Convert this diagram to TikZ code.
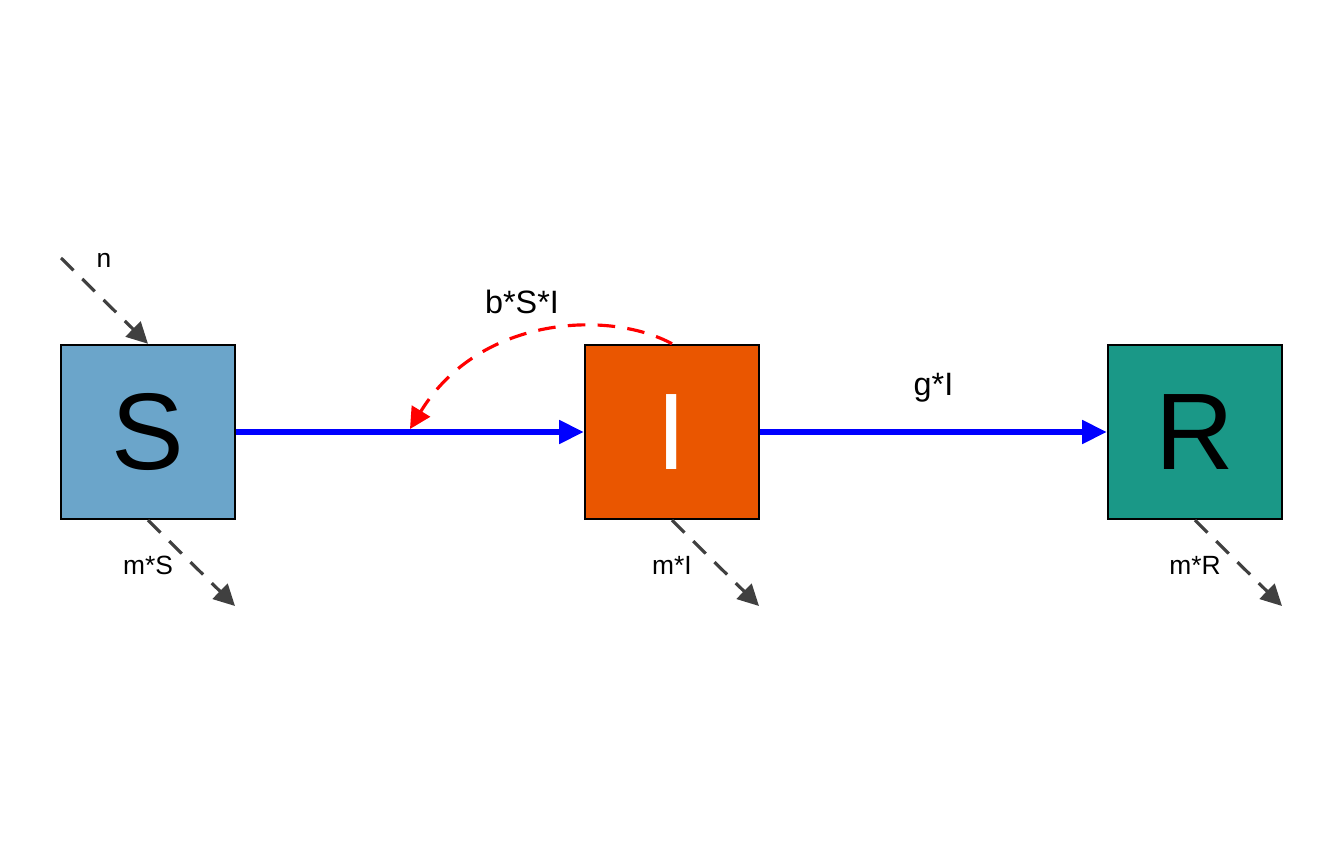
\documentclass[tikz,border=0pt]{standalone}
\usepackage{fontspec}
\setmainfont{Liberation Sans}
\usetikzlibrary{arrows.meta,positioning,calc}
\definecolor{CompS}{HTML}{6BA5CA}
\definecolor{CompI}{HTML}{EA5600}
\definecolor{CompR}{HTML}{1A9887}
\definecolor{FlowGray}{HTML}{404040}
\tikzset{
    % Compartment boxes
    compartment/.style={
        rectangle,
        draw=black,
        line width=0.7pt,
        minimum width=1.74cm,
        minimum height=1.74cm,
        inner sep=0pt,
        font=\fontsize{31}{31}\selectfont
    },
    flow/.style={
        -{Triangle[length=7pt,width=6.5pt]},
        line width=1.5pt,
        color=blue
    },
    interaction/.style={
        -{Triangle[length=6pt,width=6pt]},
        line width=0.9pt,
        dash pattern=on 5pt off 3.5pt,
        color=red
    },
    external/.style={
        -{Triangle[length=6pt,width=6pt]},
        line width=0.9pt,
        dash pattern=on 5pt off 3.5pt,
        color=FlowGray
    },
    flow label/.style={
        text=black,
        font=\fontsize{9.2}{10}\selectfont
    },
    small label/.style={
        text=black,
        font=\fontsize{7.5}{9}\selectfont
    }
}
\begin{document}
\begin{tikzpicture}
    \useasboundingbox (0,0) rectangle (13.44,8.65);

    % Compartments
    \node[compartment, fill=CompS] (S) at (1.48,4.33) {S};
    \node[compartment, fill=CompI, text=white] (I) at (6.72,4.33) {I};
    \node[compartment, fill=CompR] (R) at (11.95,4.33) {R};

    % Free ends of inflow and outflows
    \coordinate (nin) at (0.61,6.07);
    \coordinate (Sout) at (2.35,2.59);
    \coordinate (Iout) at (7.59,2.59);
    \coordinate (Rout) at (12.82,2.59);
    \coordinate (binf) at (4.10,4.36);

    % Main flows
    \draw[flow] (S.east) -- (I.west);
    \draw[flow] (I.east) -- node[flow label, above=0.15cm] (gI) {g*I} (R.west);

    % Infection interaction
    \draw[interaction] (I.north) .. controls (6.10,5.55) and (4.80,5.50) .. (binf);
    \node[flow label] (bSI) at (5.22,5.63) {b*S*I};

    % Birth and deaths
    \draw[external] (nin) -- (S.north);
    \node[small label] (n) at (1.04,6.05) {n};
    \draw[external] (S.south) -- (Sout);
    \draw[external] (I.south) -- (Iout);
    \draw[external] (R.south) -- (Rout);
    \node[small label] (mS) at (1.48,3.00) {m*S};
    \node[small label] (mI) at (6.72,3.00) {m*I};
    \node[small label] (mR) at (11.95,3.00) {m*R};
\end{tikzpicture}
\end{document}
